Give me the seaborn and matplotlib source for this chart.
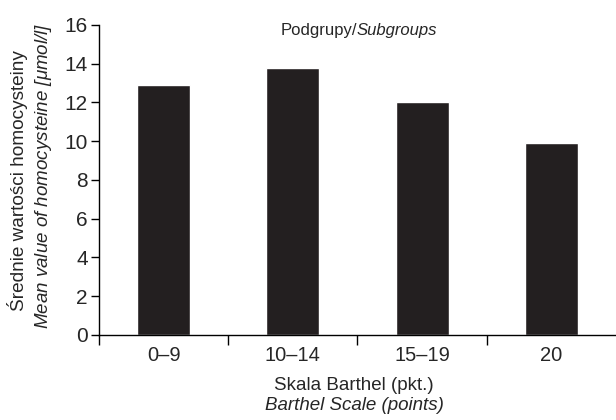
import matplotlib
matplotlib.use('Agg')
import matplotlib.pyplot as plt
import seaborn as sns
import pandas as pd

groups = ['0–9', '10–14', '15–19', '20']
hcy = [12.9, 13.8, 12.0, 9.9]

sns.set_style('ticks')
plt.rcParams['font.family'] = ['Liberation Sans', 'DejaVu Sans']
plt.rcParams['mathtext.fontset'] = 'custom'
plt.rcParams['mathtext.it'] = 'Liberation Sans:italic'

df = pd.DataFrame({'group': groups, 'hcy': hcy})

fig = plt.figure(figsize=(6.16, 4.2), dpi=100)
ax = fig.add_axes([0.1607, 0.2024, 0.8393, 0.7381])
sns.barplot(data=df, x='group', y='hcy', color='#231f20', width=0.41,
            saturation=1, ax=ax)

ax.set_xlim(-0.5, 3.5)
ax.set_ylim(0, 16)
ax.set_yticks(range(0, 17, 2))
ax.tick_params(axis='y', labelsize=15, length=6, width=1, color='black', pad=2)

# boundary ticks on x, labels centred under bars
ax.set_xticks([-0.5, 0.5, 1.5, 2.5])
ax.set_xticklabels([])
ax.set_xticks(range(len(groups)), minor=True)
ax.set_xticklabels(groups, minor=True)
ax.tick_params(axis='x', which='major', length=7, width=1, color='black')
ax.tick_params(axis='x', which='minor', length=0, labelsize=14.5, pad=8)

for s in ['top', 'right']:
    ax.spines[s].set_visible(False)
for s in ['left', 'bottom']:
    ax.spines[s].set_linewidth(1)
    ax.spines[s].set_color('black')

ax.set_xlabel('')
ax.set_ylabel('')

# title with mixed style
fig.text(357 / 616, 1 - 30 / 420, 'Podgrupy/', ha='right', va='center', fontsize=12)
fig.text(357 / 616, 1 - 30 / 420, 'Subgroups', ha='left', va='center', fontsize=12,
         style='italic')

# y axis label (two lines)
fig.text(18 / 616, 1 - 181 / 420, 'Średnie wartości homocysteiny', rotation=90,
         ha='center', va='center', fontsize=13.7)
fig.text(44 / 616, 1 - 176 / 420, 'Mean value of homocysteine [$\\mu$mol/l]',
         rotation=90, ha='center', va='center', fontsize=13.5, style='italic')

# x axis label (two lines)
fig.text(354 / 616, 1 - 385 / 420, 'Skala Barthel (pkt.)', ha='center', va='center',
         fontsize=13.5)
fig.text(354 / 616, 1 - 406 / 420, 'Barthel Scale (points)', ha='center', va='center',
         fontsize=13.5, style='italic')

fig.savefig('out.png', dpi=100)
